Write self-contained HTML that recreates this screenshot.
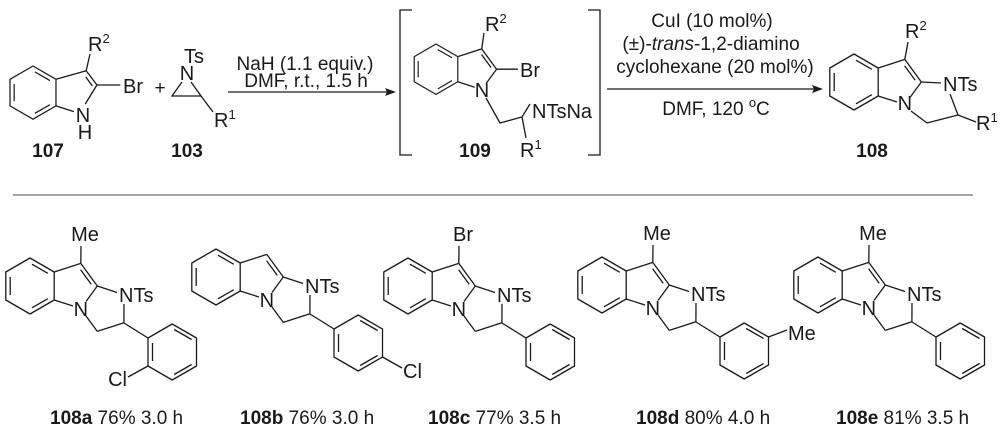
<!DOCTYPE html>
<html><head><meta charset="utf-8"><style>
html,body{margin:0;padding:0;background:#fff;}
svg{display:block;}
text{font-family:"Liberation Sans",Arial,sans-serif;fill:#1a1a1a;}
.t{font-size:19px;}
.a{font-size:20px;}
.b{font-size:19px;font-weight:bold;}
</style></head><body>
<svg width="1000" height="435" viewBox="0 0 1000 435" xmlns="http://www.w3.org/2000/svg">
<defs>
<g id="benz" fill="none" stroke="#1a1a1a" stroke-width="1.3" stroke-linejoin="round">
  <polygon points="0,0 24.2,14 24.2,42 0,56 -24.2,42 -24.2,14"/>
  <line x1="2" y1="6.2" x2="17.8" y2="15.3"/>
  <line x1="17.8" y1="40.7" x2="2" y2="49.8"/>
  <line x1="-19.8" y1="19" x2="-19.8" y2="37"/>
</g>
<g id="core" fill="none" stroke="#1a1a1a" stroke-width="1.3" stroke-linejoin="round">
  <use href="#benz"/>
  <line x1="24.2" y1="14" x2="50.8" y2="5.4"/>
  <line x1="50.8" y1="5.4" x2="67.3" y2="28"/>
  <line x1="50.6" y1="11.7" x2="61.2" y2="26.2"/>
  <line x1="24.2" y1="42" x2="43" y2="48"/>
  <line x1="67.3" y1="28" x2="56" y2="43.5"/>
  <line x1="67.3" y1="28" x2="87" y2="34.5"/>
  <line x1="94" y1="46" x2="93.9" y2="64.7"/>
  <line x1="93.9" y1="64.7" x2="67.3" y2="73.4"/>
  <line x1="67.3" y1="73.4" x2="56" y2="58"/>
  <line x1="50.8" y1="5.4" x2="51" y2="-12"/>
</g>
<g id="ph" fill="none" stroke="#1a1a1a" stroke-width="1.3" stroke-linejoin="round">
  <line x1="-24" y1="-15" x2="0" y2="0"/>
  <polygon points="0,0 24.2,-14 48.5,0 48.5,28 24.2,42 0,28"/>
  <line x1="26.2" y1="-8.5" x2="43.6" y2="1.5"/>
  <line x1="43.6" y1="26.5" x2="26.2" y2="36.5"/>
  <line x1="4.5" y1="23" x2="4.5" y2="5"/>
</g>
</defs>

<!-- 107 -->
<g transform="translate(33,66) scale(0.95)">
  <use href="#benz"/>
  <g fill="none" stroke="#1a1a1a" stroke-width="1.37">
  <line x1="24.2" y1="14" x2="56" y2="5"/>
  <line x1="56" y1="5" x2="67.3" y2="20"/>
  <line x1="55.5" y1="11.5" x2="62.5" y2="21"/>
  <line x1="24.2" y1="42" x2="43" y2="48"/>
  <line x1="67.3" y1="20" x2="55" y2="40"/>
  <line x1="56" y1="5" x2="60" y2="-12.6"/>
  <line x1="67.3" y1="20" x2="92" y2="20"/>
  </g>
</g>
<text class="a" x="88" y="51">R<tspan font-size="13" dy="-8">2</tspan></text>
<text class="a" x="123" y="93">Br</text>
<text class="a" x="83" y="122" text-anchor="middle">N</text>
<text class="a" x="85" y="139" text-anchor="middle">H</text>
<text class="t" x="160" y="94" text-anchor="middle">+</text>
<!-- 103 -->
<text class="a" x="184" y="63">Ts</text>
<text class="a" x="187" y="80" text-anchor="middle">N</text>
<g fill="none" stroke="#1a1a1a" stroke-width="1.3">
<polyline points="182,82 172,96 201,96 191,82"/>
<line x1="201" y1="96" x2="213" y2="112"/>
</g>
<text class="a" x="214" y="127">R<tspan font-size="13" dy="-8">1</tspan></text>
<text class="b" x="48" y="157" text-anchor="middle">107</text>
<text class="b" x="187" y="157" text-anchor="middle">103</text>

<!-- arrow 1 -->
<text class="t" x="305" y="70" text-anchor="middle">NaH (1.1 equiv.)</text>
<text class="t" x="306" y="87" text-anchor="middle">DMF, r.t., 1.5 h</text>
<line x1="228" y1="92" x2="390" y2="92" stroke="#1a1a1a" stroke-width="1.2"/>
<polygon points="396,92 385,88 387,92 385,96" fill="#1a1a1a"/>

<!-- brackets -->
<path d="M412 10 H400 V155 H412 M588 10 H600 V155 H588" fill="none" stroke="#1a1a1a" stroke-width="1.3"/>

<!-- 109 -->
<g transform="translate(436,44) scale(0.9)">
  <use href="#benz"/>
  <g fill="none" stroke="#1a1a1a" stroke-width="1.44">
  <line x1="24.2" y1="14" x2="50.8" y2="5.4"/>
  <line x1="50.8" y1="5.4" x2="67.3" y2="28"/>
  <line x1="50.6" y1="11.7" x2="61.2" y2="26.2"/>
  <line x1="24.2" y1="42" x2="43" y2="48"/>
  <line x1="67.3" y1="28" x2="56" y2="43.5"/>
  <line x1="50.8" y1="5.4" x2="53.3" y2="-12.2"/>
  <line x1="67.3" y1="28" x2="91" y2="28"/>
  </g>
</g>
<g fill="none" stroke="#1a1a1a" stroke-width="1.3">
<polyline points="486,98 500,123 522,117 530,104"/>
<line x1="522" y1="117" x2="526" y2="138"/>
</g>
<text class="a" x="485" y="31">R<tspan font-size="13" dy="-8">2</tspan></text>
<text class="a" x="520" y="77">Br</text>
<text class="a" x="482" y="97" text-anchor="middle">N</text>
<text class="a" x="532" y="118">NTsNa</text>
<text class="a" x="520" y="157">R<tspan font-size="13" dy="-8">1</tspan></text>
<text class="b" x="475" y="157" text-anchor="middle">109</text>

<!-- arrow 2 -->
<text class="t" x="712" y="27" text-anchor="middle">CuI (10 mol%)</text>
<text class="t" x="711" y="50" text-anchor="middle">(±)-<tspan font-style="italic">trans</tspan>-1,2-diamino</text>
<text class="t" x="715" y="73" text-anchor="middle">cyclohexane (20 mol%)</text>
<line x1="607" y1="89" x2="817" y2="89" stroke="#1a1a1a" stroke-width="1.2"/>
<polygon points="823,89 812,85 814,89 812,93" fill="#1a1a1a"/>
<text class="t" x="716" y="115" text-anchor="middle">DMF, 120 <tspan font-size="13" dy="-8">o</tspan><tspan dy="8">C</tspan></text>

<!-- 108 -->
<g transform="translate(854,54)">
  <use href="#benz"/>
  <g fill="none" stroke="#1a1a1a" stroke-width="1.3" stroke-linejoin="round">
  <line x1="24.2" y1="14" x2="50.8" y2="5.4"/>
  <line x1="50.8" y1="5.4" x2="67.3" y2="28"/>
  <line x1="50.6" y1="11.7" x2="61.2" y2="26.2"/>
  <line x1="24.2" y1="42" x2="43" y2="48"/>
  <line x1="67.3" y1="28" x2="56" y2="43.5"/>
  <line x1="67.3" y1="28" x2="87" y2="29"/>
  <line x1="96" y1="40" x2="104" y2="61"/>
  <line x1="104" y1="61" x2="73" y2="69"/>
  <line x1="73" y1="69" x2="57" y2="57"/>
  <line x1="50.8" y1="5.4" x2="54" y2="-12"/>
  <line x1="104" y1="61" x2="122" y2="68"/>
  </g>
  <text class="a" x="51" y="-16">R<tspan font-size="13" dy="-8">2</tspan></text>
  <text class="a" x="50.8" y="56" text-anchor="middle">N</text>
  <text class="a" x="89" y="37">NTs</text>
  <text class="a" x="122" y="76">R<tspan font-size="13" dy="-8">1</tspan></text>
</g>
<text class="b" x="872" y="157" text-anchor="middle">108</text>

<!-- separator -->
<line x1="13" y1="195" x2="973" y2="195" stroke="#8a8a8a" stroke-width="1.5"/>

<!-- 108a -->
<g transform="translate(30,258)">
  <use href="#core"/>
  <text class="a" x="55" y="-17" text-anchor="middle">Me</text>
  <text class="a" x="50.8" y="58" text-anchor="middle">N</text>
  <text class="a" x="89" y="44">NTs</text>
  <g transform="translate(118,80)">
    <use href="#ph"/>
    <line x1="0" y1="28" x2="-20" y2="39" stroke="#1a1a1a" stroke-width="1.3"/>
    <text class="a" x="-21" y="48" text-anchor="end">Cl</text>
  </g>
</g>
<text class="t" x="50" y="424"><tspan font-weight="bold">108a</tspan> 76% 3.0 h</text>

<!-- 108b -->
<g transform="translate(216,249)">
  <g fill="none" stroke="#1a1a1a" stroke-width="1.3">
  <use href="#benz"/>
  <line x1="24.2" y1="14" x2="50.8" y2="5.4"/>
  <line x1="50.8" y1="5.4" x2="67.3" y2="28"/>
  <line x1="50.6" y1="11.7" x2="61.2" y2="26.2"/>
  <line x1="24.2" y1="42" x2="43" y2="48"/>
  <line x1="67.3" y1="28" x2="56" y2="43.5"/>
  <line x1="67.3" y1="28" x2="87" y2="34.5"/>
  <line x1="94" y1="46" x2="93.9" y2="64.7"/>
  <line x1="93.9" y1="64.7" x2="67.3" y2="73.4"/>
  <line x1="67.3" y1="73.4" x2="56" y2="58"/>
  </g>
  <text class="a" x="50.8" y="58" text-anchor="middle">N</text>
  <text class="a" x="89" y="44">NTs</text>
  <g transform="translate(118,80)">
    <use href="#ph"/>
    <line x1="48.5" y1="28" x2="68" y2="39" stroke="#1a1a1a" stroke-width="1.3"/>
    <text class="a" x="69" y="49">Cl</text>
  </g>
</g>
<text class="t" x="240" y="424"><tspan font-weight="bold">108b</tspan> 76% 3.0 h</text>

<!-- 108c -->
<g transform="translate(408,258)">
  <use href="#core"/>
  <text class="a" x="55" y="-17" text-anchor="middle">Br</text>
  <text class="a" x="50.8" y="58" text-anchor="middle">N</text>
  <text class="a" x="89" y="44">NTs</text>
  <g transform="translate(118,80)"><use href="#ph"/></g>
</g>
<text class="t" x="428" y="424"><tspan font-weight="bold">108c</tspan> 77% 3.5 h</text>

<!-- 108d -->
<g transform="translate(602,257)">
  <use href="#core"/>
  <text class="a" x="55" y="-17" text-anchor="middle">Me</text>
  <text class="a" x="50.8" y="58" text-anchor="middle">N</text>
  <text class="a" x="89" y="44">NTs</text>
  <g transform="translate(118,80)">
    <use href="#ph"/>
    <line x1="48.5" y1="0" x2="67" y2="-7" stroke="#1a1a1a" stroke-width="1.3"/>
    <text class="a" x="68" y="3">Me</text>
  </g>
</g>
<text class="t" x="636" y="424"><tspan font-weight="bold">108d</tspan> 80% 4.0 h</text>

<!-- 108e -->
<g transform="translate(818,257)">
  <use href="#core"/>
  <text class="a" x="55" y="-17" text-anchor="middle">Me</text>
  <text class="a" x="50.8" y="58" text-anchor="middle">N</text>
  <text class="a" x="89" y="44">NTs</text>
  <g transform="translate(118,80)"><use href="#ph"/></g>
</g>
<text class="t" x="836" y="424"><tspan font-weight="bold">108e</tspan> 81% 3.5 h</text>
</svg>
</body></html>
